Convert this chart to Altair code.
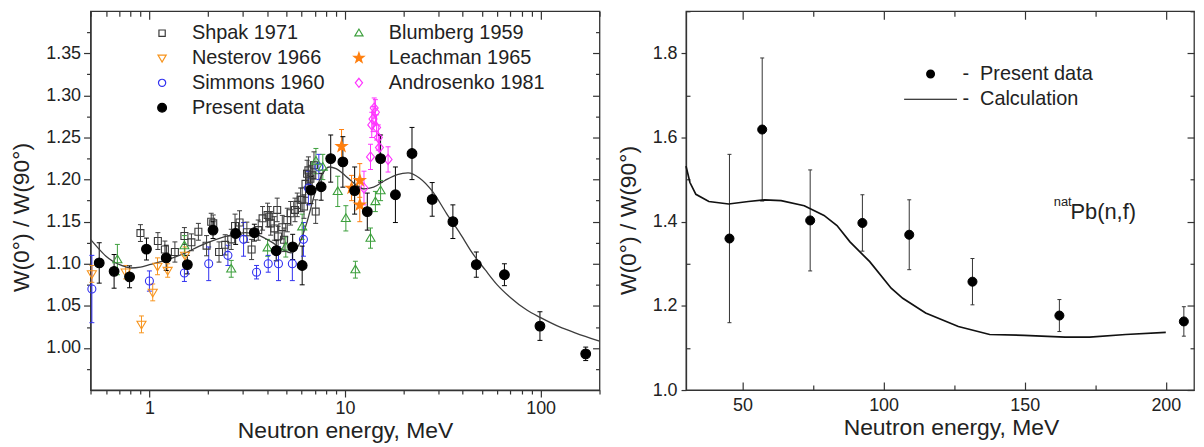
import altair as alt
import pandas as pd

FONT = "Liberation Sans"
INK = "#222222"
FRAME = "#333333"

# ------------------------------------------------------------------ left panel data
# legend order (column-major: left column first, then right column)
SERIES_ORDER = ["Shpak 1971", "Nesterov 1966", "Simmons 1960", "Present data",
                "Blumberg 1959", "Leachman 1965", "Androsenko 1981"]

SHPAK_E = [0.90, 1.105, 1.20, 1.35, 1.51, 1.64, 1.78, 1.96, 2.07, 2.12,
           2.27, 2.44, 2.62, 2.74, 2.89, 3.15, 3.33, 3.60, 3.79, 4.02,
           4.10, 4.17, 4.35, 4.50, 4.55, 4.78, 4.88, 5.07, 5.27, 5.55,
           5.70, 5.93, 6.04, 6.17, 6.28, 6.40, 6.50, 6.65, 6.80, 6.94, 7.08]
SHPAK_W = [1.1365, 1.127, 1.117, 1.114, 1.133, 1.1255, 1.138, 1.1215, 1.150, 1.148,
           1.114, 1.1225, 1.129, 1.145, 1.149, 1.1375, 1.117, 1.140, 1.154, 1.158,
           1.156, 1.148, 1.142, 1.164, 1.1325, 1.1435, 1.1285, 1.152, 1.160, 1.164,
           1.170, 1.176, 1.176, 1.168, 1.195, 1.207, 1.211, 1.201, 1.205, 1.217, 1.162]
SHPAK_ERR = [0.010, 0.010, 0.010, 0.012, 0.010, 0.010, 0.010, 0.012, 0.010, 0.010,
             0.012, 0.012, 0.012, 0.014, 0.014, 0.012, 0.012, 0.012, 0.014, 0.014,
             0.012, 0.014, 0.014, 0.014, 0.012, 0.014, 0.014, 0.014, 0.014, 0.014,
             0.014, 0.014, 0.014, 0.014, 0.016, 0.016, 0.016, 0.016, 0.016, 0.016, 0.014]

SIMMONS_E = [0.508, 1.00, 1.51, 2.01, 2.52, 3.03, 3.53, 4.05, 4.57, 5.38, 6.13, 6.50, 7.35]
SIMMONS_W = [1.070, 1.0795, 1.089, 1.100, 1.110, 1.129, 1.090, 1.100, 1.100, 1.100, 1.129, 1.190, 1.215]
SIMMONS_ERR = [0.040, 0.012, 0.010, 0.020, 0.012, 0.020, 0.008, 0.010, 0.020, 0.020, 0.020, 0.020, 0.015]

NESTEROV_E = [0.508, 0.756, 0.911, 1.04, 1.10, 1.24, 1.52]
NESTEROV_W = [1.088, 1.090, 1.028, 1.066, 1.097, 1.092, 1.110]
NESTEROV_ERR = [0.010, 0.008, 0.010, 0.010, 0.010, 0.008, 0.010]

BLUMBERG_E = [0.686, 1.51, 2.62, 4.02, 4.98, 6.04, 7.10, 7.70, 9.18, 10.1, 11.3, 13.5, 14.3, 15.2]
BLUMBERG_W = [1.105, 1.1215, 1.094, 1.119, 1.120, 1.144, 1.222, 1.215, 1.186, 1.154, 1.093, 1.1305, 1.174, 1.187]
BLUMBERG_ERR = [0.018, 0.012, 0.010, 0.010, 0.012, 0.015, 0.015, 0.015, 0.018, 0.015, 0.010, 0.012, 0.012, 0.012]

ANDRO_E = [12.5, 13.5, 13.7, 13.9, 14.1, 14.3, 14.5, 14.8, 15.0, 16.6]
ANDRO_W = [1.190, 1.227, 1.265, 1.272, 1.285, 1.280, 1.262, 1.250, 1.238, 1.224]
ANDRO_ERR = [0.020, 0.015, 0.015, 0.015, 0.012, 0.015, 0.015, 0.015, 0.015, 0.015]

LEACH_E = [9.6, 10.8, 11.9, 11.9]
LEACH_W = [1.2395, 1.190, 1.199, 1.170]
LEACH_ERR = [0.020, 0.015, 0.020, 0.020]

PD_E = [0.554, 0.66, 0.792, 0.966, 1.219, 1.563, 2.115, 2.76, 3.44, 4.45, 5.40, 6.04, 6.70,
        7.55, 8.45, 9.75, 11.2, 13.0, 15.2, 18.1, 22.0, 27.9, 35.6, 46.9, 65.3, 99.2, 170.0]
PD_W = [1.101, 1.091, 1.0845, 1.1175, 1.107, 1.099, 1.140, 1.136, 1.137, 1.1155, 1.120, 1.098, 1.1875,
        1.1915, 1.225, 1.221, 1.187, 1.162, 1.225, 1.182, 1.231, 1.1765, 1.150, 1.099, 1.087, 1.026, 0.993]
PD_ERR = [0.024, 0.020, 0.013, 0.013, 0.015, 0.011, 0.010, 0.013, 0.010, 0.012, 0.015, 0.023, 0.016,
          0.016, 0.028, 0.030, 0.028, 0.022, 0.028, 0.033, 0.031, 0.020, 0.020, 0.015, 0.013, 0.017, 0.008]

FIT_E = [0.5, 0.55, 0.6, 0.65, 0.72, 0.8, 0.9, 1.0, 1.2, 1.5, 1.8, 2.2, 2.6, 3.1, 3.6, 4.2, 4.8,
         5.3, 5.8, 6.4, 7.0, 7.6, 8.3, 9.0, 10.0, 11.2, 12.5, 14.0, 16.0, 18.5, 21.0, 24.0, 28.0,
         33.0, 39.0, 45.0, 52.0, 60.0, 70.0, 85.0, 100.0, 125.0, 150.0, 200.0]
FIT_W = [1.129, 1.118, 1.109, 1.103, 1.098, 1.095, 1.096, 1.099, 1.104, 1.112, 1.121, 1.129, 1.134,
         1.137, 1.134, 1.126, 1.117, 1.113, 1.122, 1.150, 1.183, 1.205, 1.215, 1.213, 1.205, 1.195,
         1.189, 1.191, 1.199, 1.206, 1.208, 1.202, 1.186, 1.160, 1.135, 1.112, 1.093, 1.075, 1.060,
         1.045, 1.036, 1.025, 1.018, 1.008]

# ------------------------------------------------------------------ right panel data
R_E = [45.4, 57.0, 74.0, 92.5, 109.1, 131.5, 162.3, 206.4]
R_W = [1.360, 1.619, 1.403, 1.397, 1.369, 1.2575, 1.177, 1.163]
R_ERR = [0.200, 0.170, 0.120, 0.067, 0.083, 0.055, 0.038, 0.035]

CALC_E = [30.0, 31.4, 33.5, 38.1, 45.1, 52.1, 57.9, 63.7, 71.9, 78.9, 83.5, 88.1, 95.1, 102.7,
          106.8, 114.9, 126.5, 137.6, 149.8, 164.3, 173.0, 185.8, 200.0]
CALC_W = [1.532, 1.493, 1.465, 1.448, 1.442, 1.448, 1.452, 1.450, 1.438, 1.415, 1.391, 1.352, 1.305,
          1.242, 1.218, 1.183, 1.151, 1.132, 1.130, 1.1256, 1.1256, 1.132, 1.137]

R_SERIES = ["Present data", "Calculation"]
ANNOT_MAIN = ["Pb(n,f)"]
ANNOT_MAIN_E = [166.2]
ANNOT_MAIN_W = [1.406]
ANNOT_SUP = ["nat"]
ANNOT_SUP_E = [160.3]
ANNOT_SUP_W = [1.437]

# tick values
L_X_MAJOR = [1, 10, 100]
L_X_MINOR = [0.5, 0.6, 0.7, 0.8, 0.9, 2, 3, 4, 5, 6, 7, 8, 9, 20, 30, 40, 50, 60, 70, 80, 90, 200]
L_Y_MAJOR = [1.00, 1.05, 1.10, 1.15, 1.20, 1.25, 1.30, 1.35]
L_Y_MINOR = [0.975, 1.025, 1.075, 1.125, 1.175, 1.225, 1.275, 1.325, 1.375]
R_X_MAJOR = [50, 100, 150, 200]
R_X_MINOR = [75, 125, 175]
R_Y_MAJOR = [1.0, 1.2, 1.4, 1.6, 1.8]
R_Y_MINOR = [1.1, 1.3, 1.5, 1.7, 1.9]

# ------------------------------------------------------------------ styles
STROKES = {"Shpak 1971": "#3a3a3a", "Blumberg 1959": "#3c9f3c", "Nesterov 1966": "#f7941d",
           "Leachman 1965": "#ff7f0e", "Simmons 1960": "#3030f0", "Androsenko 1981": "#ff33ff",
           "Present data": "#000000"}
FILLS = {"Shpak 1971": "transparent", "Blumberg 1959": "transparent", "Nesterov 1966": "transparent",
         "Leachman 1965": "#ff7f0e", "Simmons 1960": "transparent", "Androsenko 1981": "transparent",
         "Present data": "#000000"}
SHAPES = {
    "Shpak 1971": "M-1,-1L1,-1L1,1L-1,1Z",
    "Blumberg 1959": "M-1.3,0.9L1.3,0.9L0,-1.3Z",
    "Nesterov 1966": "M-1.3,-0.9L1.3,-0.9L0,1.3Z",
    "Leachman 1965": "M0,-1.7L0.4,-0.551L1.617,-0.525L0.646,0.211L1,1.375L0,0.68L-1,1.375L-0.646,0.211L-1.617,-0.525L-0.4,-0.551Z",
    "Simmons 1960": "M1.15,0A1.15,1.15,0,1,1,-1.15,0A1.15,1.15,0,1,1,1.15,0Z",
    "Androsenko 1981": "M0,-1.45L1.15,0L0,1.45L-1.15,0Z",
    "Present data": "M1.4,0A1.4,1.4,0,1,1,-1.4,0A1.4,1.4,0,1,1,1.4,0Z",
}
DRAW_ORDER = ["Shpak 1971", "Simmons 1960", "Nesterov 1966", "Blumberg 1959",
              "Androsenko 1981", "Leachman 1965", "Present data"]

# ------------------------------------------------------------------ tables
series_data = {
    "Shpak 1971": (SHPAK_E, SHPAK_W, SHPAK_ERR),
    "Simmons 1960": (SIMMONS_E, SIMMONS_W, SIMMONS_ERR),
    "Nesterov 1966": (NESTEROV_E, NESTEROV_W, NESTEROV_ERR),
    "Blumberg 1959": (BLUMBERG_E, BLUMBERG_W, BLUMBERG_ERR),
    "Androsenko 1981": (ANDRO_E, ANDRO_W, ANDRO_ERR),
    "Leachman 1965": (LEACH_E, LEACH_W, LEACH_ERR),
    "Present data": (PD_E, PD_W, PD_ERR),
}
rows = []
for name in DRAW_ORDER:
    es, ws, errs = series_data[name]
    for e, w, d in zip(es, ws, errs):
        rows.append({"series": name, "E": e, "W": w, "lo": w - d, "hi": w + d})
left_df = pd.DataFrame(rows)
fit_df = pd.DataFrame({"E": FIT_E, "W": FIT_W})

right_df = pd.DataFrame({"kind": ["Present data"] * len(R_E), "E": R_E, "W": R_W,
                         "lo": [w - d for w, d in zip(R_W, R_ERR)],
                         "hi": [w + d for w, d in zip(R_W, R_ERR)]})
calc_df = pd.DataFrame({"E": CALC_E, "W": CALC_W})
ann_main_df = pd.DataFrame({"E": ANNOT_MAIN_E, "W": ANNOT_MAIN_W, "label": ANNOT_MAIN})
ann_sup_df = pd.DataFrame({"E": ANNOT_SUP_E, "W": ANNOT_SUP_W, "label": ANNOT_SUP})

# ------------------------------------------------------------------ axes helpers
def tick_axis(orient, values, size, inward=False):
    kw = dict(orient=orient, values=values, tickSize=size, labels=False, domain=False,
              title=None, grid=False)
    if inward:
        kw["offset"] = -size
    return alt.Axis(**kw)

W_L, W_R, H = 512, 511, 381
YTITLE = "W(0°) / W(90°)"
XTITLE = "Neutron energy, MeV"

xs_l = alt.Scale(type="log", domain=[0.5, 200], nice=False)
ys_l = alt.Scale(domain=[0.95, 1.40], nice=False, zero=False)

L_X_BOTTOM = alt.Axis(orient="bottom", values=L_X_MAJOR, format="~g", tickSize=7, labelPadding=3,
                      labelFontSize=18, title=XTITLE, titleFontSize=23, titlePadding=2, grid=False)
L_Y_LEFT = alt.Axis(orient="left", values=L_Y_MAJOR, format=".2f", tickSize=7, labelPadding=3,
                    labelFontSize=18, title=YTITLE, titleFontSize=23, titlePadding=12,
                    titleY=207, grid=False)

stroke_scale_l = alt.Scale(domain=SERIES_ORDER, range=[STROKES[s] for s in SERIES_ORDER])
fill_scale_l = alt.Scale(domain=SERIES_ORDER, range=[FILLS[s] for s in SERIES_ORDER])
shape_scale_l = alt.Scale(domain=SERIES_ORDER, range=[SHAPES[s] for s in SERIES_ORDER])

LEG_L = alt.Legend(title=None, orient="none", legendX=62, legendY=12, columns=2,
                   columnPadding=24, rowPadding=5, labelFontSize=20, labelFont=FONT,
                   labelColor=INK, labelOffset=20, labelLimit=0, symbolSize=40,
                   symbolStrokeWidth=1.2, symbolFillColor="transparent",
                   symbolStrokeColor="black", padding=0)

stroke_l = alt.Stroke("series:N", scale=stroke_scale_l, legend=LEG_L)

base_l = alt.Chart(left_df)
err_l = base_l.mark_rule(strokeWidth=1.0).encode(
    x=alt.X("E:Q", scale=xs_l, axis=tick_axis("top", L_X_MAJOR, 8, True)),
    y=alt.Y("lo:Q", scale=ys_l, axis=tick_axis("right", L_Y_MAJOR, 7, True)),
    y2="hi:Q",
    stroke=stroke_l,
)
caplo_l = base_l.mark_rule(strokeWidth=1.0, xOffset=-2.5, x2Offset=2.5).encode(
    x=alt.X("E:Q", scale=xs_l, axis=tick_axis("top", L_X_MINOR, 5, True)),
    x2="E:Q",
    y=alt.Y("lo:Q", scale=ys_l, axis=tick_axis("right", L_Y_MINOR, 4, True)),
    stroke=stroke_l,
)
caphi_l = base_l.mark_rule(strokeWidth=1.0, xOffset=-2.5, x2Offset=2.5).encode(
    x=alt.X("E:Q", scale=xs_l, axis=None),
    x2="E:Q",
    y=alt.Y("hi:Q", scale=ys_l, axis=None),
    stroke=stroke_l,
)
curve_l = alt.Chart(fit_df).mark_line(color="#3d3d3d", strokeWidth=1.3, interpolate="monotone").encode(
    x=alt.X("E:Q", scale=xs_l, axis=tick_axis("bottom", L_X_MINOR, 4)),
    y=alt.Y("W:Q", scale=ys_l, axis=tick_axis("left", L_Y_MINOR, 4)),
)
pts_l = base_l.mark_point(size=49, strokeWidth=1.1, opacity=1).encode(
    x=alt.X("E:Q", scale=xs_l, axis=L_X_BOTTOM),
    y=alt.Y("W:Q", scale=ys_l, axis=L_Y_LEFT),
    stroke=stroke_l,
    fill=alt.Fill("series:N", scale=fill_scale_l, legend=LEG_L),
    shape=alt.Shape("series:N", scale=shape_scale_l, legend=LEG_L),
)
left = alt.layer(err_l, caplo_l, caphi_l, curve_l, pts_l).resolve_axis(
    x="independent", y="independent").properties(width=W_L, height=H)

# ------------------------------------------------------------------ right panel
xs_r = alt.Scale(domain=[30, 210], nice=False, zero=False)
ys_r = alt.Scale(domain=[1.0, 1.9], nice=False, zero=False)

R_X_BOTTOM = alt.Axis(orient="bottom", values=R_X_MAJOR, format="d", tickSize=8, offset=-8,
                      domain=False, labelPadding=7, labelFontSize=18, title=XTITLE,
                      titleFontSize=23, titlePadding=2, titleX=W_R / 2 + 11, grid=False)
R_Y_LEFT = alt.Axis(orient="left", values=R_Y_MAJOR, format=".1f", tickSize=5, labelPadding=4,
                    labelFontSize=18, title=YTITLE, titleFontSize=23, titlePadding=12,
                    titleY=210, grid=False)

LEG_R = alt.Legend(title=None, orient="none", legendX=236, legendY=53, labelFontSize=20,
                   labelFont=FONT, labelColor=INK, labelOffset=22, labelLimit=0,
                   labelExpr="'-\u00a0 ' + datum.label", rowPadding=5.5, symbolSize=49,
                   symbolStrokeWidth=1.0, symbolStrokeColor="black", symbolFillColor="black",
                   padding=0)
shape_scale_r = alt.Scale(domain=R_SERIES,
                          range=["M1.3,0A1.3,1.3,0,1,1,-1.3,0A1.3,1.3,0,1,1,1.3,0Z",
                                 "M-7.6,-0.12L7.6,-0.12L7.6,0.12L-7.6,0.12Z"])

base_r = alt.Chart(right_df)
err_r = base_r.mark_rule(strokeWidth=1.0, color="#333333").encode(
    x=alt.X("E:Q", scale=xs_r, axis=tick_axis("top", R_X_MAJOR, 8, True)),
    y=alt.Y("lo:Q", scale=ys_r, axis=tick_axis("right", R_Y_MAJOR, 7, True)),
    y2="hi:Q",
)
caplo_r = base_r.mark_rule(strokeWidth=1.0, color="#333333", xOffset=-2, x2Offset=2).encode(
    x=alt.X("E:Q", scale=xs_r, axis=tick_axis("top", R_X_MINOR, 5, True)),
    x2="E:Q",
    y=alt.Y("lo:Q", scale=ys_r, axis=tick_axis("right", R_Y_MINOR, 4, True)),
)
caphi_r = base_r.mark_rule(strokeWidth=1.0, color="#333333", xOffset=-2, x2Offset=2).encode(
    x=alt.X("E:Q", scale=xs_r, axis=tick_axis("bottom", R_X_MINOR, 5, True)),
    x2="E:Q",
    y=alt.Y("hi:Q", scale=ys_r, axis=tick_axis("left", R_Y_MINOR, 4, True)),
)
calc_r = alt.Chart(calc_df).mark_line(color="#111111", strokeWidth=1.7).encode(
    x=alt.X("E:Q", scale=xs_r, axis=None),
    y=alt.Y("W:Q", scale=ys_r, axis=None),
)
pts_r = base_r.mark_point(size=49, filled=True, color="black", stroke="black",
                          strokeWidth=1.0, opacity=1).encode(
    x=alt.X("E:Q", scale=xs_r, axis=R_X_BOTTOM),
    y=alt.Y("W:Q", scale=ys_r, axis=R_Y_LEFT),
    shape=alt.Shape("kind:N", scale=shape_scale_r, legend=LEG_R),
)
ann_main = alt.Chart(ann_main_df).mark_text(align="left", baseline="alphabetic", font=FONT,
                                            fontSize=22, color=INK).encode(
    x=alt.X("E:Q", scale=xs_r, axis=None),
    y=alt.Y("W:Q", scale=ys_r, axis=None),
    text="label:N",
)
ann_sup = alt.Chart(ann_sup_df).mark_text(align="left", baseline="alphabetic", font=FONT,
                                          fontSize=13, color=INK).encode(
    x=alt.X("E:Q", scale=xs_r, axis=None),
    y=alt.Y("W:Q", scale=ys_r, axis=None),
    text="label:N",
)
right = alt.layer(err_r, caplo_r, caphi_r, calc_r, pts_r, ann_main, ann_sup).resolve_axis(
    x="independent", y="independent").properties(width=W_R, height=H)

chart = alt.hconcat(left, right, spacing=13).resolve_scale(
    shape="independent", stroke="independent", fill="independent"
).resolve_legend(
    shape="independent", stroke="independent", fill="independent"
).properties(
    padding={"left": 2, "top": 0, "right": 0, "bottom": 0}
).configure_view(stroke=FRAME, strokeWidth=1.3).configure_axis(
    labelFont=FONT, titleFont=FONT, labelColor=INK, titleColor=INK, tickColor=FRAME,
    domainColor=FRAME, tickWidth=1.2, domainWidth=1.3, titleFontWeight="normal",
    labelOverlap=False,
)

chart.save("out.html", embed_options={"renderer": "svg", "actions": False})
